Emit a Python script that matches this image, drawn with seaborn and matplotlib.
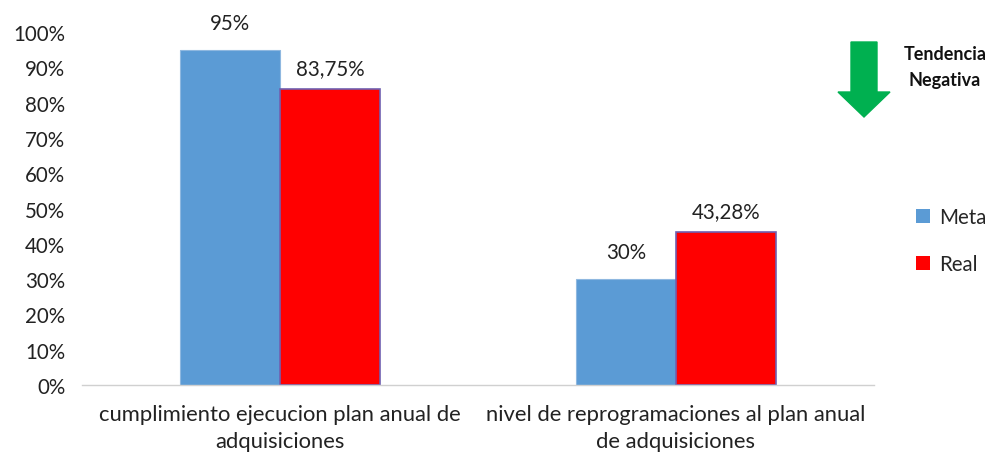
import matplotlib
matplotlib.use("Agg")
import matplotlib.pyplot as plt
import seaborn as sns
import pandas as pd
from matplotlib.patches import FancyArrow, Patch

categories = ["cumplimiento ejecucion plan anual de\nadquisiciones",
              "nivel de reprogramaciones al plan anual\nde adquisiciones"]
meta = [95, 30]
real = [83.75, 43.28]
meta_labels = ["95%", "30%"]
real_labels = ["83,75%", "43,28%"]
series = ["Meta", "Real"]
colors = ["#5B9BD5", "#FF0000"]

df = pd.DataFrame({
    "cat": categories * 2,
    "serie": ["Meta"] * 2 + ["Real"] * 2,
    "val": meta + real,
})

sns.set_style("white")
plt.rcParams["font.family"] = ["Lato", "DejaVu Sans"]
FS = 14.8

fig = plt.figure(figsize=(9.94, 4.56), dpi=100)
ax = fig.add_axes([0.0825, 0.1535, 0.7965, 0.7741])
sns.barplot(data=df, x="cat", y="val", hue="serie", palette=colors,
            width=0.505, ax=ax, saturation=1, legend=False)

for p in ax.patches[2:4]:
    p.set_edgecolor("#7060B0")
    p.set_linewidth(1.2)
for p in ax.patches[0:2]:
    p.set_edgecolor("#8FB8E0")
    p.set_linewidth(0.8)

ax.bar_label(ax.containers[0], labels=meta_labels, padding=12, fontsize=FS, color="#222222")
ax.bar_label(ax.containers[1], labels=real_labels, padding=8, fontsize=FS, color="#222222")

ax.set_ylim(0, 100)
ax.set_xlim(-0.5, 1.5)
ax.set_yticks(range(0, 101, 10))
ax.set_yticklabels([f"{v}%" for v in range(0, 101, 10)], fontsize=FS, color="#222222")
ax.tick_params(axis="x", labelsize=15.8, colors="#222222", length=0, pad=14)
ax.tick_params(axis="y", length=0, pad=12)
for t in ax.get_xticklabels():
    t.set_linespacing(1.38)
ax.set_xlabel("")
ax.set_ylabel("")
for s in ["top", "right", "left"]:
    ax.spines[s].set_visible(False)
ax.spines["bottom"].set_color("#D0D0D0")
ax.spines["bottom"].set_linewidth(1)

# legend
handles = [Patch(facecolor=c, edgecolor="none") for c in colors]
fig.legend(handles, series, loc="center left", bbox_to_anchor=(0.903, 0.47),
           frameon=False, fontsize=FS, handlelength=0.7, handleheight=0.7,
           handletextpad=0.4, labelspacing=1.3)

# trend arrow and text
arr = FancyArrow(864 / 994, 1 - 43 / 456, 0, -(118 - 43) / 456, width=26 / 994,
                 head_width=52 / 994, head_length=25 / 456, length_includes_head=True,
                 color="#00B050", transform=fig.transFigure)
fig.patches.append(arr)
fig.text(945 / 994, 1 - 67.5 / 456, "Tendencia\nNegativa", ha="center", va="center",
         fontsize=13, fontweight="bold", linespacing=1.65, color="#111111")

fig.savefig("out.png", dpi=100)
